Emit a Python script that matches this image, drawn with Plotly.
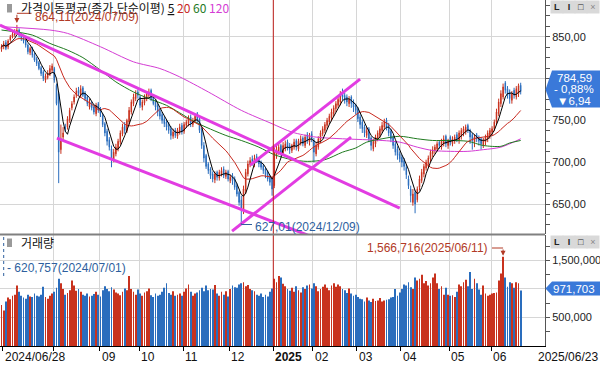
import plotly.graph_objects as go
import pandas as pd

# ---------------- data ----------------
opens = [
    835, 838, 843, 838, 846, 850, 852, 855, 858, 852,
    849, 846, 840, 831, 837, 829, 824, 819, 813, 808,
    798, 801, 805, 810, 812, 792, 782, 715, 730, 742,
    742, 750, 765, 772, 780, 786, 780, 789, 782, 778,
    766, 770, 766, 758, 770, 764, 756, 746, 737, 727,
    716, 703, 710, 716, 724, 734, 744, 737, 748, 760,
    770, 776, 784, 778, 766, 771, 776, 780, 786, 778,
    772, 768, 762, 757, 752, 748, 745, 740, 731, 738,
    731, 736, 744, 737, 744, 746, 754, 745, 750, 758,
    752, 738, 720, 708, 698, 692, 686, 679, 688, 681,
    686, 692, 683, 689, 678, 684, 680, 672, 664, 655,
    642, 666, 686, 697, 704, 698, 707, 704, 700, 696,
    692, 688, 682, 680, 672, 708, 712, 720, 711, 716,
    724, 720, 714, 718, 726, 716, 723, 729, 720, 733,
    724, 734, 726, 710, 718, 726, 734, 738, 744, 748,
    753, 758, 764, 768, 772, 784, 780, 778, 770, 778,
    772, 768, 764, 754, 748, 742, 732, 740, 729, 716,
    722, 728, 732, 738, 742, 750, 744, 737, 730, 722,
    716, 710, 706, 702, 694, 680, 668, 652, 664, 655,
    670, 678, 686, 693, 698, 704, 710, 714, 716, 724,
    718, 722, 731, 720, 730, 722, 725, 733, 726, 731,
    735, 736, 744, 738, 733, 724, 733, 730, 728, 720,
    724, 728, 732, 736, 740, 748, 758, 770, 778, 795,
    788, 784, 774, 786, 778, 782, 792,
]
highs = [
    841, 845, 846, 847, 852, 856, 859, 864.11, 860, 854,
    851, 848, 842, 838, 838, 831, 826, 821, 815, 810,
    806, 810, 816, 818, 814, 794, 784, 745, 742, 746,
    755, 765, 773, 781, 789, 790, 792, 791, 785, 780,
    776, 773, 768, 771, 772, 766, 758, 748, 740, 730,
    720, 716, 722, 728, 738, 746, 748, 752, 766, 775,
    782, 786, 787, 780, 775, 781, 785, 788, 788, 780,
    775, 770, 765, 760, 755, 751, 748, 743, 740, 741,
    741, 746, 747, 748, 751, 756, 757, 753, 758, 760,
    754, 741, 724, 710, 700, 694, 689, 689, 690, 691,
    694, 695, 691, 691, 685, 687, 683, 675, 666, 660,
    672, 692, 702, 706, 708, 709, 710, 706, 702, 698,
    694, 690, 685, 682, 718, 720, 722, 722, 724, 726,
    727, 723, 722, 728, 728, 728, 732, 731, 733, 736,
    735, 737, 729, 724, 731, 738, 743, 748, 753, 758,
    764, 768, 773, 779, 785, 788, 783, 781, 779, 780,
    775, 770, 766, 757, 751, 745, 742, 742, 731, 728,
    733, 738, 743, 748, 752, 753, 747, 740, 732, 725,
    719, 713, 709, 705, 697, 684, 672, 668, 667, 671,
    684, 692, 698, 703, 708, 715, 719, 721, 725, 726,
    728, 732, 733, 728, 732, 731, 733, 736, 738, 741,
    743, 745, 746, 740, 735, 733, 735, 732, 730, 729,
    733, 738, 741, 743, 751, 764, 776, 786, 794, 797,
    791, 787, 785, 789, 791, 794, 795,
]
lows = [
    832, 835, 834, 835, 844, 848, 850, 853, 849, 845,
    842, 837, 829, 828, 825, 820, 815, 810, 803, 797,
    795, 799, 803, 807, 795, 768, 675, 710, 726, 736,
    739, 747, 762, 769, 777, 779, 777, 778, 773, 767,
    763, 762, 757, 755, 759, 754, 742, 731, 720, 714,
    694, 700, 707, 713, 721, 731, 734, 735, 745, 757,
    767, 773, 776, 765, 762, 768, 773, 777, 773, 768,
    762, 755, 751, 746, 742, 738, 734, 727, 728, 729,
    728, 733, 733, 734, 741, 743, 742, 742, 747, 747,
    735, 716, 700, 692, 686, 680, 676, 675, 678, 678,
    683, 681, 680, 677, 675, 673, 667, 659, 648, 627.01,
    638, 662, 683, 694, 696, 694, 699, 694, 691, 686,
    681, 677, 672, 660, 669, 704, 709, 708, 708, 713,
    714, 710, 711, 715, 714, 713, 720, 719, 717, 722,
    720, 724, 700, 707, 715, 723, 731, 735, 740, 745,
    749, 755, 760, 765, 768, 774, 770, 767, 766, 765,
    760, 757, 748, 740, 735, 730, 729, 724, 714, 713,
    718, 725, 729, 735, 739, 738, 731, 724, 716, 708,
    703, 700, 694, 690, 680, 668, 652, 648, 639, 652,
    666, 675, 682, 690, 694, 700, 706, 710, 713, 716,
    715, 719, 718, 716, 720, 719, 722, 724, 722, 727,
    731, 733, 735, 722, 715, 718, 724, 720, 715, 717,
    720, 724, 728, 732, 737, 745, 755, 766, 775, 782,
    776, 770, 770, 776, 775, 778, 781,
]
closes = [
    838, 842, 836, 845, 850, 853, 856, 858, 852, 848,
    845, 840, 832, 836, 828, 822, 818, 812, 806, 800,
    803, 806, 812, 815, 798, 770, 712, 728, 735, 740,
    752, 762, 770, 778, 785, 782, 788, 780, 776, 770,
    772, 765, 760, 768, 762, 758, 745, 735, 725, 718,
    705, 712, 718, 725, 735, 742, 738, 750, 762, 772,
    778, 782, 780, 768, 772, 778, 782, 784, 776, 770,
    766, 760, 755, 750, 746, 742, 738, 732, 736, 732,
    738, 742, 736, 745, 748, 752, 746, 750, 755, 750,
    738, 720, 705, 695, 690, 684, 680, 686, 682, 688,
    690, 684, 688, 680, 682, 678, 670, 662, 652, 645,
    668, 688, 698, 702, 700, 705, 702, 698, 694, 690,
    685, 680, 676, 668, 712, 715, 718, 712, 720, 722,
    718, 715, 720, 724, 718, 725, 728, 722, 730, 726,
    732, 728, 712, 720, 728, 735, 740, 745, 750, 755,
    760, 765, 770, 775, 780, 778, 774, 772, 775, 770,
    766, 762, 752, 745, 740, 735, 738, 728, 720, 725,
    730, 735, 740, 744, 748, 742, 735, 728, 720, 712,
    708, 704, 700, 695, 685, 672, 660, 662, 650, 668,
    680, 688, 695, 700, 705, 712, 715, 718, 722, 720,
    725, 728, 722, 726, 724, 728, 730, 728, 735, 738,
    740, 742, 738, 730, 726, 730, 728, 725, 722, 726,
    730, 735, 738, 740, 748, 760, 772, 782, 790, 786,
    780, 776, 782, 780, 788, 791.53, 784.59,
]
volumes = [
    720000, 620757, 780000, 850000, 820000, 880000, 900000, 1060000, 950000, 880000,
    850000, 830000, 900000, 870000, 860000, 920000, 880000, 870000, 900000, 1040000,
    860000, 830000, 880000, 920000, 950000, 1020000, 1180000, 1100000, 1000000, 900000,
    930000, 980000, 1150000, 1060000, 970000, 1000000, 950000, 900000, 880000, 920000,
    870000, 880000, 910000, 950000, 900000, 870000, 980000, 1050000, 1000000, 960000,
    1030000, 990000, 940000, 920000, 890000, 950000, 1010000, 980000, 1230000, 1000000,
    950000, 900000, 990000, 920000, 880000, 940000, 960000, 1010000, 890000, 860000,
    920000, 880000, 900000, 950000, 1020000, 1100000, 930000, 900000, 960000, 880000,
    900000, 920000, 880000, 950000, 1010000, 1080000, 950000, 880000, 920000, 940000,
    980000, 1020000, 960000, 1060000, 980000, 1000000, 990000, 1070000, 920000, 880000,
    950000, 900000, 960000, 870000, 1000000, 1060000, 1030000, 1020000, 1080000, 1100000,
    1120000, 1050000, 1070000, 1000000, 980000, 960000, 900000, 880000, 920000, 860000,
    900000, 870000, 950000, 1010000, 1180000, 1120000, 1230000, 1200000, 1090000, 1050000,
    1000000, 970000, 1020000, 950000, 1050000, 980000, 940000, 1030000, 1000000, 1060000,
    1080000, 1010000, 1100000, 1050000, 960000, 1000000, 1040000, 1080000, 1020000, 980000,
    1060000, 1100000, 1040000, 1080000, 1050000, 1000000, 980000, 930000, 1010000, 920000,
    880000, 900000, 860000, 830000, 820000, 780000, 850000, 800000, 770000, 830000,
    790000, 800000, 840000, 780000, 800000, 810000, 820000, 850000, 860000, 1000000,
    880000, 940000, 1000000, 1080000, 1060000, 1120000, 1030000, 1000000, 1200000, 1150000,
    1180000, 1250000, 1100000, 1140000, 1060000, 1100000, 1200000, 1270000, 1100000, 1000000,
    1050000, 900000, 1020000, 900000, 880000, 890000, 860000, 950000, 1080000, 1050000,
    1120000, 1160000, 1050000, 1300000, 1000000, 1180000, 1100000, 990000, 900000, 1060000,
    920000, 880000, 900000, 920000, 930000, 940000, 1150000, 1270000, 1566716, 1200000,
    1040000, 1120000, 1100000, 1020000, 1120000, 1100000, 971703,
]

# 60- and 120-day moving averages (trading-day index, value)
ma60_idx = [0, 14, 22, 30, 37, 45, 52, 60, 67, 75, 81, 88, 102, 109, 117, 124,
            132, 139, 147, 155, 161, 166, 173, 181, 189, 196, 204, 212, 219, 227, 231, 236]
ma60_val = [858, 852, 842, 834, 825, 810, 796, 784, 776, 768, 759, 748, 732, 726, 718, 709,
            703, 701, 703, 712, 717, 724, 728, 731, 728, 726, 726, 725, 720, 719, 723, 726]
ma120_idx = [0, 22, 30, 45, 60, 72, 81, 94, 109, 123, 132, 143, 155, 173, 181, 189,
             196, 204, 212, 219, 227, 236]
ma120_val = [862, 858, 854, 838, 820, 812, 802, 784, 762, 746, 736, 730, 728, 726, 724, 718,
             714, 713, 713, 715, 718, 728]

# user-drawn trend lines (index0, price0, index1, price1)
trend_lines = [
    (-0.7, 864.0, 181.0, 645.0),
    (25.2, 728.8, 140.0, 612.0),
    (113.0, 696.5, 163.0, 799.4),
    (104.8, 617.6, 158.9, 730.0),
]

month_idx = [24, 45, 63, 83, 104, 124, 142, 162, 182, 204, 223]
month_labels = ["", "09", "10", "11", "12", "<b>2025</b>", "02", "03", "04", "05", "06"]
start_label = "2024/06/28"
end_label = "2025/06/23"

high_mark = (7, 864.11, "864,11(2024/07/09)")
low_mark = (109, 627.01, "627,01(2024/12/09)")
vol_max_mark = (228, 1566716, "1,566,716(2025/06/11)")
vol_min_mark = (1, 620757, "- 620,757(2024/07/01)")
last_close_txt = "784,59"
change_pct_txt = "- 0,88%"
change_abs_txt = "▼6,94"
last_volume_txt = "971,703"

price_ticks = [650, 700, 750, 800, 850]
price_ticktext = ["650,00", "700,00", "750,00", "", "850,00"]
vol_ticks = [500000, 1000000, 1500000]
vol_ticktext = ["500,000", "", "1,500,000"]

legend_title = "가격이동평균(종가,단순이평)"
vol_title = "거래량"

# ---------------- styling / geometry ----------------
RED = "#c8321e"
BLUE = "#2a6dbd"
DRED = "#b23a26"
DBLUE = "#2e5f9e"
MA5C = "#000000"
MA20C = "#c8281e"
MA60C = "#1f7a1f"
MA120C = "#d43cd4"
TRENDC = "#e23ce2"
GRID = "#d6d6d6"
AXC = "#555555"
BOXC = "#3a79d9"
FONT = "Liberation Sans, Arial, sans-serif"
KFONT = "Noto Sans CJK KR, sans-serif"

W, H = 600, 366
PW, PH = 545, 346
XR = [-0.68, 247.05]
PR = [614.2, 893.9]
VR = [0, 1.947e6]
PRICE_H = 234.0
VOL_TOP = 235.0
VOL_H = 111.0


def X(px):
    return px / PW


def Y(py):
    return 1 - py / PH


def pix_x(i):
    return (i - XR[0]) / (XR[1] - XR[0]) * PW


def pix_p(p):
    return (PR[1] - p) / (PR[1] - PR[0]) * PRICE_H


def pix_v(v):
    return VOL_TOP + (VR[1] - v) / (VR[1] - VR[0]) * VOL_H


def dat_x(px):
    return XR[0] + px / PW * (XR[1] - XR[0])


def dat_p(py):
    return PR[1] - py / PRICE_H * (PR[1] - PR[0])


def dat_v(py):
    return VR[1] - (py - VOL_TOP) / VOL_H * (VR[1] - VR[0])


n = len(closes)
idx = list(range(n))
cs = pd.Series(closes)
ma5 = cs.rolling(5, min_periods=1).mean()
ma20 = cs.rolling(20, min_periods=1).mean()
vol_colors = [RED if c > o else BLUE for o, c in zip(opens, closes)]

fig = go.Figure()
fig.add_trace(go.Bar(x=idx, y=volumes, marker=dict(color=vol_colors, line=dict(width=0)),
                     width=0.45, xaxis="x", yaxis="y2", hoverinfo="skip"))
fig.add_trace(go.Candlestick(
    x=idx, open=opens, high=highs, low=lows, close=closes,
    increasing=dict(line=dict(color=RED, width=1), fillcolor=RED),
    decreasing=dict(line=dict(color=BLUE, width=1), fillcolor=BLUE),
    whiskerwidth=0, xaxis="x", yaxis="y", hoverinfo="skip"))
fig.add_trace(go.Scatter(x=ma120_idx, y=ma120_val, mode="lines",
                         line=dict(color=MA120C, width=1, shape="spline", smoothing=0.8),
                         xaxis="x", yaxis="y", hoverinfo="skip"))
fig.add_trace(go.Scatter(x=ma60_idx, y=ma60_val, mode="lines",
                         line=dict(color=MA60C, width=1, shape="spline", smoothing=0.8),
                         xaxis="x", yaxis="y", hoverinfo="skip"))
fig.add_trace(go.Scatter(x=idx, y=ma20, mode="lines", line=dict(color=MA20C, width=1),
                         xaxis="x", yaxis="y", hoverinfo="skip"))
fig.add_trace(go.Scatter(x=idx, y=ma5, mode="lines", line=dict(color=MA5C, width=1),
                         xaxis="x", yaxis="y", hoverinfo="skip"))
for (i0, p0, i1, p1) in trend_lines:
    fig.add_trace(go.Scatter(x=[i0, i1], y=[p0, p1], mode="lines",
                             line=dict(color=TRENDC, width=3),
                             xaxis="x", yaxis="y", hoverinfo="skip"))

grid_pos = [m - 0.45 for m in month_idx]

shapes = []
# year boundary line
shapes.append(dict(type="line", xref="x", yref="paper", x0=grid_pos[5], x1=grid_pos[5],
                   y0=0, y1=1, line=dict(color="#c0201c", width=1), layer="above"))
# panel separator
shapes.append(dict(type="line", xref="paper", yref="paper", x0=0, x1=1,
                   y0=Y(234.5), y1=Y(234.5), line=dict(color="#808080", width=2)))
# legend squares
shapes.append(dict(type="rect", xref="paper", yref="paper", x0=X(7), x1=X(12),
                   y0=Y(4), y1=Y(12.5), fillcolor="#9a9a9a", line=dict(width=0)))
shapes.append(dict(type="rect", xref="paper", yref="paper", x0=X(7), x1=X(12),
                   y0=Y(238.5), y1=Y(247), fillcolor="#9a9a9a", line=dict(width=0)))
# high marker elbow
hy = dat_p(13.3)
shapes.append(dict(type="line", xref="x", yref="y", x0=high_mark[0], x1=dat_x(31.5),
                   y0=hy, y1=hy, line=dict(color=DRED, width=1)))
# low marker connector
ly = dat_p(224.5)
shapes.append(dict(type="line", xref="x", yref="y", x0=low_mark[0], x1=dat_x(252),
                   y0=ly, y1=ly, line=dict(color=DBLUE, width=1)))
shapes.append(dict(type="line", xref="x", yref="y", x0=low_mark[0], x1=low_mark[0],
                   y0=low_mark[1], y1=ly, line=dict(color=DBLUE, width=1)))
# volume max elbow
vy = dat_v(248)
shapes.append(dict(type="line", xref="x", yref="y2", x0=dat_x(492), x1=vol_max_mark[0],
                   y0=vy, y1=vy, line=dict(color=DRED, width=1)))
# volume min dotted marker
shapes.append(dict(type="line", xref="x", yref="paper", x0=vol_min_mark[0], x1=vol_min_mark[0],
                   y0=Y(237), y1=Y(276), line=dict(color=DBLUE, width=1, dash="dot")))
# current price box
tip = pix_p(closes[-1]) - 2
shapes.append(dict(type="path", xref="paper", yref="paper",
                   path=f"M {X(545.5)},{Y(tip)} L {X(552)},{Y(tip-19)} L {X(600)},{Y(tip-19)} "
                        f"L {X(600)},{Y(tip+18)} L {X(552)},{Y(tip+18)} Z",
                   fillcolor=BOXC, line=dict(width=0)))
# current volume box
vt = pix_v(volumes[-1]) - 2
shapes.append(dict(type="path", xref="paper", yref="paper",
                   path=f"M {X(545.5)},{Y(vt)} L {X(552)},{Y(vt-7)} L {X(600)},{Y(vt-7)} "
                        f"L {X(600)},{Y(vt+7)} L {X(552)},{Y(vt+7)} Z",
                   fillcolor=BOXC, line=dict(width=0)))

ann = []
ann.append(dict(xref="paper", yref="paper", x=X(19), y=Y(8), xanchor="left", yanchor="middle",
                showarrow=False,
                text=(legend_title + " <u>5</u> "
                      f"<span style='color:{MA20C}'>20</span> "
                      f"<span style='color:{MA60C}'>60</span> "
                      f"<span style='color:{MA120C}'>120</span>"),
                font=dict(family=KFONT, size=12, color="#111")))
ann.append(dict(xref="paper", yref="paper", x=X(19), y=Y(242.5), xanchor="left", yanchor="middle",
                showarrow=False, text=vol_title, font=dict(family=KFONT, size=12, color="#111")))
# high label + arrow
ann.append(dict(xref="x", yref="y", x=high_mark[0], y=high_mark[1], xanchor="left", yanchor="middle",
                xshift=pix_x(dat_x(33)) - pix_x(high_mark[0]), yshift=pix_p(high_mark[1]) - 17.5,
                showarrow=False, text=high_mark[2], font=dict(family=FONT, size=12, color=DRED)))
ann.append(dict(xref="x", yref="y", x=high_mark[0], y=high_mark[1], text="", showarrow=True,
                ax=0, ay=-(pix_p(high_mark[1]) - 13.3), arrowhead=2, arrowsize=1, arrowwidth=1,
                arrowcolor=DRED, standoff=2))
# low label
ann.append(dict(xref="x", yref="y", x=low_mark[0], y=low_mark[1], xanchor="left", yanchor="middle",
                xshift=253 - pix_x(low_mark[0]), yshift=pix_p(low_mark[1]) - 227,
                showarrow=False, text=low_mark[2], font=dict(family=FONT, size=12, color=DBLUE)))
# volume max label + arrow
ann.append(dict(xref="x", yref="y2", x=vol_max_mark[0], y=vol_max_mark[1], xanchor="right",
                yanchor="middle", xshift=490 - pix_x(vol_max_mark[0]),
                yshift=pix_v(vol_max_mark[1]) - 248,
                showarrow=False, text=vol_max_mark[2], font=dict(family=FONT, size=12, color=DRED)))
ann.append(dict(xref="x", yref="y2", x=vol_max_mark[0], y=vol_max_mark[1], text="", showarrow=True,
                ax=0, ay=-(pix_v(vol_max_mark[1]) - 248), arrowhead=2, arrowsize=1, arrowwidth=1,
                arrowcolor=DRED, standoff=1))
# volume min label
ann.append(dict(xref="paper", yref="paper", x=X(5), y=Y(268), xanchor="left", yanchor="middle",
                showarrow=False, text=vol_min_mark[2], font=dict(family=FONT, size=12, color=DBLUE)))
# current price texts
for txt, yy in [(last_close_txt, tip - 11), (change_pct_txt, tip), (change_abs_txt, tip + 11.5)]:
    ann.append(dict(xref="paper", yref="paper", x=X(574), y=Y(yy), xanchor="center",
                    yanchor="middle", showarrow=False, text=txt,
                    font=dict(family=FONT, size=11.5, color="white")))
ann.append(dict(xref="paper", yref="paper", x=X(574), y=Y(vt), xanchor="center", yanchor="middle",
                showarrow=False, text=last_volume_txt, font=dict(family=FONT, size=11.5, color="white")))
# panel control icons
for top in (2, 237):
    for k, g in enumerate(["<b>L</b>", "<b>I</b>", "□", "×"]):
        ann.append(dict(xref="paper", yref="paper", x=X(557 + k * 12), y=Y(top + 5),
                        xanchor="center", yanchor="middle", showarrow=False, text=g,
                        width=10, height=10, bgcolor="#d9d9d9",
                        font=dict(family=FONT, size=9, color="#222" if k < 3 else "#888")))
# x-axis labels
ann.append(dict(xref="x", yref="paper", x=0.3, y=Y(357), xanchor="left", yanchor="middle",
                xshift=1, showarrow=False, text=start_label,
                font=dict(family=FONT, size=12, color="#111")))
for pos, lab in zip(grid_pos, month_labels):
    if lab:
        ann.append(dict(xref="x", yref="paper", x=pos, y=Y(357), xanchor="left", yanchor="middle",
                        xshift=0, showarrow=False, text=lab,
                        font=dict(family=FONT, size=12, color="#111")))
ann.append(dict(xref="paper", yref="paper", x=X(536), y=Y(357), xanchor="left", yanchor="middle",
                showarrow=False, text=end_label, font=dict(family=FONT, size=12, color="#111")))

fig.update_layout(
    template="none",
    width=W, height=H, autosize=False,
    margin=dict(l=0, r=W - PW, t=0, b=H - PH, pad=0),
    paper_bgcolor="white", plot_bgcolor="white",
    showlegend=False,
    boxgap=0.75, boxgroupgap=0,
    font=dict(family=FONT, size=11, color="#222"),
    xaxis=dict(domain=[0, 1], range=XR, anchor="y2", showgrid=True, gridcolor=GRID, gridwidth=1,
               tickmode="array", tickvals=grid_pos, ticks="outside", ticklen=4, tickcolor="#000",
               showticklabels=False, showline=True, linecolor="#000", linewidth=1,
               zeroline=False, rangeslider=dict(visible=False), automargin=False, fixedrange=True,
               minor=dict(tickvals=[0.3], ticks="outside", ticklen=4, tickcolor="#000",
                          showgrid=False)),
    yaxis=dict(domain=[1 - PRICE_H / PH, 1], range=PR, side="right", anchor="x",
               showline=True, linecolor=AXC, linewidth=1, tickmode="array",
               tickvals=price_ticks, ticktext=price_ticktext, ticks="outside", ticklen=4,
               tickcolor=AXC, showgrid=True, gridcolor=GRID, zeroline=False, automargin=False,
               tickfont=dict(family=FONT, size=11, color="#222"), fixedrange=True,
               minor=dict(tickvals=[625 + 12.5 * k for k in range(22)], ticks="outside",
                          ticklen=4, tickcolor=AXC, showgrid=False)),
    yaxis2=dict(domain=[0, VOL_H / PH], range=VR, side="right", anchor="x",
                showline=True, linecolor=AXC, linewidth=1, tickmode="array",
                tickvals=vol_ticks, ticktext=vol_ticktext, ticks="outside", ticklen=4,
                tickcolor=AXC, showgrid=True, gridcolor=GRID, zeroline=False, automargin=False,
                tickfont=dict(family=FONT, size=11, color="#222"), fixedrange=True,
                minor=dict(tickvals=[250000 * k for k in range(1, 8)], ticks="outside",
                           ticklen=4, tickcolor=AXC, showgrid=False)),
    shapes=shapes,
    annotations=ann,
)

fig.write_html("out.html", config={"displayModeBar": False},
               post_script="document.body.style.margin='0';document.body.style.overflow='hidden';")
